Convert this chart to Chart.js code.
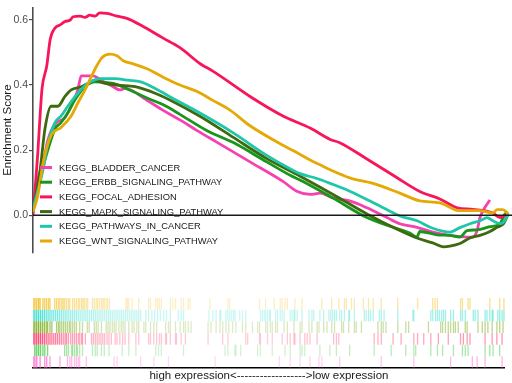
<!DOCTYPE html>
<html>
<head>
<meta charset="utf-8">
<script src="https://cdn.jsdelivr.net/npm/chart.js@4.4.1/dist/chart.umd.min.js"></script>
<style>
  body { margin: 0; background: #fff; }
  canvas { display: block; }
</style>
</head>
<body>
<canvas id="es-chart" width="512" height="265"></canvas>
<canvas id="rug-chart" width="512" height="118"></canvas>
<script>
// gene sets, in legend order
const geneSets = ['KEGG_BLADDER_CANCER', 'KEGG_ERBB_SIGNALING_PATHWAY', 'KEGG_FOCAL_ADHESION',
  'KEGG_MAPK_SIGNALING_PATHWAY', 'KEGG_PATHWAYS_IN_CANCER', 'KEGG_WNT_SIGNALING_PATHWAY'];
const yTicks = [0, 0.2, 0.4, 0.6];

// running enrichment score: position in ranked list (%) / score
const bladderX = [0,0.8,2.1,3.1,4.6,6.7,8.0,9.4,10.1,12.6,14.3,16.8,18.2,19.3,23.9,27.2,30.8,34.4,38.6,45.5,52.4,55.3,58.1,60.2,62.9,66.4,70.0,74.2,76.9,80.5,83.8,87.4,91.0,92.2,93.1,93.7,94.7,95.8];
const bladderES = [0.02,0.1,0.16,0.23,0.28,0.3,0.335,0.385,0.428,0.428,0.415,0.395,0.385,0.39,0.353,0.323,0.293,0.26,0.224,0.164,0.104,0.074,0.064,0.068,0.053,0.044,0.023,-0.007,-0.026,-0.037,-0.052,-0.062,-0.067,-0.067,-0.047,-0.007,0.023,0.047];
const erbbX = [0,1.7,3.1,4.6,5.9,7.3,8.8,10.9,13.0,16.8,20.3,23.9,27.2,30.8,36.5,41.9,49.0,53.9,56.6,62.9,70.0,75.5,79.0,80.5,81.1,84.7,87.4,89.5,91.0,93.1,95.8,97.9,98.9,99.6];
const erbbES = [0.02,0.125,0.2,0.265,0.285,0.315,0.355,0.395,0.41,0.405,0.385,0.36,0.34,0.31,0.26,0.224,0.164,0.123,0.104,0.053,-0.007,-0.037,-0.055,-0.067,-0.05,-0.06,-0.062,-0.067,-0.047,-0.045,-0.035,-0.026,0.003,0.007];
const focalX = [0,1.0,1.5,1.9,2.9,3.6,4.6,5.7,6.7,7.8,8.4,9.9,10.9,11.9,13.0,14.0,15.5,17.6,19.7,23.1,27.2,30.8,35.2,37.7,45.5,52.4,58.1,62.3,64.3,70.0,75.5,81.1,85.3,88.9,92.2,96.4,97.9,99.6];
const focalES = [0,0.19,0.31,0.39,0.46,0.54,0.575,0.585,0.595,0.6,0.61,0.612,0.608,0.615,0.612,0.622,0.62,0.612,0.605,0.58,0.545,0.515,0.464,0.443,0.365,0.305,0.268,0.233,0.223,0.173,0.123,0.073,0.05,0.023,0.018,0.007,-0.007,0.003];
const mapkX = [0,1.5,2.5,3.8,5.2,6.7,8.0,10.1,11.5,13.0,15.1,17.8,21.4,25.6,28.7,35.0,41.9,49.0,56.0,62.9,70.0,76.9,80.5,83.8,86.0,87.4,89.5,91.6,93.7,95.8,97.3,98.7,99.6];
const mapkES = [0.01,0.14,0.265,0.335,0.335,0.365,0.385,0.395,0.405,0.415,0.405,0.4,0.395,0.375,0.354,0.304,0.24,0.174,0.12,0.064,0.004,-0.047,-0.07,-0.085,-0.097,-0.095,-0.087,-0.07,-0.062,-0.05,-0.037,-0.025,0.003];
const pathwaysX = [0,2.1,3.1,4.6,5.9,7.3,9.4,11.5,14.3,17.2,19.9,22.6,24.5,26.8,28.7,35.0,41.9,49.0,53.9,56.0,59.5,62.3,66.4,73.4,76.9,80.5,83.8,87.4,89.5,91.6,93.7,95.2,96.4,97.9,98.9,99.6];
const pathwaysES = [0.02,0.14,0.22,0.285,0.305,0.335,0.375,0.405,0.42,0.42,0.415,0.41,0.398,0.38,0.364,0.314,0.254,0.184,0.143,0.128,0.113,0.098,0.074,0.023,-0.002,-0.017,-0.04,-0.052,-0.038,-0.026,-0.017,-0.007,-0.017,-0.026,-0.017,0.007];
const wntX = [0,1.0,2.1,3.8,5.9,8.0,9.4,10.9,12.2,13.4,14.5,16.1,17.6,18.9,21.0,23.9,27.2,30.8,34.4,37.7,41.3,45.5,52.4,56.0,58.1,60.2,62.3,66.4,71.3,76.9,81.1,85.3,89.5,93.7,96.4,97.3,98.5,99.6];
const wntES = [0.01,0.06,0.16,0.245,0.27,0.305,0.345,0.385,0.425,0.46,0.485,0.495,0.49,0.475,0.465,0.45,0.425,0.4,0.38,0.353,0.323,0.275,0.215,0.187,0.17,0.155,0.14,0.115,0.098,0.068,0.044,0.038,0.014,0.014,0.007,0.017,0.017,0.005];

// hit positions of each gene set in the ranked list (%)
const bladderHits = [0,0.4,0.8,1.5,2.5,2.9,3.6,5.7,7.3,7.8,8.2,8.8,9.2,9.6,9.9,11.3,17.2,17.8,22.8,25.6,28.7,38.6,52.2,54.5,56.6,58.7,60.6,61.2,65.0,73.8,80.7,88.5,93.1,94.1,95.8,99.4];
const erbbHits = [0.4,0.8,1.2,1.6,2.1,2.5,3.1,6.7,7.1,7.5,8.2,8.4,8.8,9.2,9.4,9.9,10.5,12.6,13.2,13.6,14.5,15.1,16.1,18.9,20.3,21.8,26.0,26.6,27.2,31.9,40.7,41.3,42.8,43.0,44.0,47.6,48.2,50.7,53.4,54.5,56.6,57.0,57.6,60.8,62.9,64.3,67.1,72.3,75.9,79.0,80.7,81.1,84.3,85.7,86.8,89.1,91.0,91.6,92.2,95.8,96.8,97.5,98.9];
const focalHits = [0,0.4,0.8,1.2,1.6,2.0,2.4,2.8,3.2,3.6,4.0,4.4,4.8,5.2,5.6,6.0,6.4,6.8,7.1,7.5,8.0,8.4,8.8,9.2,9.6,9.9,10.3,10.5,11.1,12.4,12.8,13.2,13.6,14.0,14.4,14.8,15.2,15.7,16.1,16.6,17.4,17.8,18.4,19.0,19.5,20.3,21.8,22.4,24.5,24.9,25.6,26.2,26.8,27.2,28.1,28.3,29.1,30.2,30.4,31.4,32.3,37.1,40.2,41.3,45.1,45.5,48.0,48.2,49.7,50.7,52.8,53.9,54.5,55.3,55.5,56.6,57.6,58.1,58.7,60.2,63.7,64.3,64.8,72.3,73.1,73.8,76.3,78.0,80.7,81.5,82.8,84.3,85.9,88.0,90.6,91.2,92.0,92.6,95.8,97.3,98.3,99.4];
const mapkHits = [0,0.4,0.8,1.2,1.6,2.0,2.4,2.8,3.1,3.6,4.0,5.0,5.4,5.7,6.1,6.5,6.9,7.3,7.7,8.0,8.4,8.8,9.2,9.9,10.5,11.5,11.9,13.0,13.4,13.8,14.5,15.5,15.9,16.3,16.8,17.2,17.6,18.2,18.7,19.1,19.5,20.3,21.0,21.4,22.0,22.4,23.5,23.9,24.9,25.6,26.2,28.1,28.7,29.1,30.2,31.2,31.9,32.3,32.9,33.5,37.1,37.7,38.8,39.6,40.2,40.9,41.5,42.3,43.0,44.4,45.1,46.5,47.6,48.0,49.3,49.7,50.3,50.7,51.4,51.8,53.2,53.9,55.3,56.6,57.0,58.5,59.1,60.2,60.6,61.6,62.3,63.3,63.9,65.4,65.8,66.9,68.1,68.5,69.6,73.1,73.8,74.2,74.8,77.3,79.0,79.6,83.8,86.4,86.8,87.4,88.0,88.5,89.1,89.5,90.1,91.6,92.0,94.3,95.2,95.8,96.4,97.3,98.3,98.9,99.6];
const pathwaysHits = [0,0.4,0.8,1.2,1.6,2.0,2.4,2.8,3.2,3.6,4.0,4.4,4.8,5.2,5.6,6.0,6.4,6.8,7.2,7.6,8.0,8.4,8.8,9.2,9.6,10.0,10.4,10.8,11.2,11.6,12.0,12.4,12.8,13.2,13.6,14.0,14.4,14.8,15.2,15.6,16.0,16.4,16.8,17.2,17.6,18.0,18.4,18.8,19.2,19.6,20.0,20.4,20.8,21.2,21.6,22.0,22.4,22.8,23.9,24.5,25.2,25.8,26.4,27.0,27.7,28.3,29.1,30.8,31.4,31.9,37.3,38.1,38.8,39.6,39.8,40.9,41.3,41.7,42.1,42.5,42.8,43.8,44.4,45.1,48.2,48.6,49.0,49.3,49.7,50.1,50.3,51.4,51.8,52.4,52.8,53.2,54.5,54.9,55.3,55.5,56.0,57.0,58.5,59.1,59.5,60.8,61.6,62.7,63.1,63.5,63.9,64.3,65.0,65.4,66.0,66.9,67.1,68.1,70.2,70.6,71.1,71.5,72.1,73.4,73.8,74.4,77.3,80.5,80.7,84.3,84.7,85.3,85.7,86.1,86.6,87.0,87.4,88.5,89.1,90.6,91.0,91.6,93.3,93.7,94.3,95.8,96.2,96.8,97.3,97.5,98.5,98.9,99.4,99.8];
const wntHits = [0,0.4,0.8,1.2,1.5,2.1,2.5,2.9,3.3,3.6,4.6,5.0,5.4,5.7,6.1,6.4,6.7,7.1,7.5,7.8,8.4,8.8,9.2,9.6,9.9,10.3,10.6,10.9,11.3,11.6,12.6,13.0,13.4,13.7,14.1,14.5,14.8,15.1,15.5,15.8,16.2,19.7,20.0,20.3,21.0,22.4,24.5,24.9,26.0,26.4,26.8,27.2,29.1,29.6,30.2,31.4,31.9,32.9,33.3,37.5,41.3,41.7,48.0,49.3,51.1,52.4,52.8,53.4,53.9,55.5,57.0,61.2,63.3,64.8,66.0,66.4,67.5,68.1,70.0,71.1,72.1,73.8,77.3,81.5,84.7,85.2,85.7,90.6,91.0,92.2,92.6,96.8,98.9,99.8];

const lineColors = ['#F542B0', '#18961B', '#F7165A', '#3D6A0F', '#1FC6A8', '#E5A905'];
const rugColors = [[255, 92, 200], [60, 200, 60], [255, 26, 85], [106, 164, 0], [25, 217, 201], [242, 183, 5]];

const esX = [bladderX, erbbX, focalX, mapkX, pathwaysX, wntX];
const esY = [bladderES, erbbES, focalES, mapkES, pathwaysES, wntES];
const hits = [bladderHits, erbbHits, focalHits, mapkHits, pathwaysHits, wntHits];

Chart.defaults.font.family = '"Liberation Sans", Arial, sans-serif';
Chart.defaults.color = '#1a1a1a';

// zero line + legend drawn inside the plot
const esOverlay = {
  id: 'esOverlay',
  afterDatasetsDraw(chart) {
    const ctx = chart.ctx;
    const area = chart.chartArea;
    const y0 = chart.scales.y.getPixelForValue(0);
    ctx.save();
    ctx.strokeStyle = '#1a1a1a';
    ctx.lineWidth = 1.3;
    ctx.beginPath();
    ctx.moveTo(area.left, y0);
    ctx.lineTo(chart.width, y0);
    ctx.stroke();

    ctx.font = '9.4px "Liberation Sans", Arial, sans-serif';
    ctx.textBaseline = 'middle';
    ctx.textAlign = 'left';
    chart.data.datasets.forEach((ds, i) => {
      const y = 167.5 + i * 14.7;
      ctx.strokeStyle = ds.borderColor;
      ctx.lineWidth = 3;
      ctx.beginPath();
      ctx.moveTo(40, y);
      ctx.lineTo(52, y);
      ctx.stroke();
      ctx.fillStyle = '#1a1a1a';
      ctx.fillText(ds.label, 59, y + 0.5);
    });
    ctx.restore();
  }
};

new Chart(document.getElementById('es-chart').getContext('2d'), {
  type: 'line',
  data: {
    datasets: geneSets.map((name, i) => ({
      label: name,
      data: esX[i].map((x, j) => ({x: x, y: esY[i][j]})),
      borderColor: lineColors[i],
      borderWidth: 2.8,
      pointRadius: 0,
      cubicInterpolationMode: 'monotone',
      fill: false,
      order: geneSets.length - i
    }))
  },
  options: {
    responsive: false,
    animation: false,
    layout: {padding: {top: 2, right: 2, bottom: 12, left: 0}},
    plugins: {legend: {display: false}, tooltip: {enabled: false}},
    scales: {
      x: {type: 'linear', min: 0, max: 100, display: false},
      y: {
        min: -0.116,
        max: 0.639,
        afterBuildTicks: (scale) => { scale.ticks = yTicks.map(v => ({value: v})); },
        afterFit: (scale) => { scale.width = 33; },
        ticks: {
          color: '#4d4d4d',
          font: {size: 10.5},
          padding: 1,
          callback: (v) => Number(v).toFixed(1)
        },
        grid: {drawOnChartArea: false, drawTicks: true, tickLength: 4, color: '#4d4d4d', lineWidth: 1.2},
        border: {display: true, color: '#4d4d4d', width: 1.6},
        title: {display: true, text: 'Enrichment Score', color: '#1a1a1a', font: {size: 11.5}, padding: {top: 1, bottom: 0}}
      }
    }
  },
  plugins: [esOverlay]
});

// hit strength: strongest at the top of the list, weak in the middle
function hitColor(rgb, x) {
  const a = 0.22 + 0.68 * Math.exp(-x / 7) + 0.25 * Math.max(0, (x - 50) / 50);
  return 'rgba(' + rgb[0] + ',' + rgb[1] + ',' + rgb[2] + ',' + a.toFixed(2) + ')';
}

new Chart(document.getElementById('rug-chart').getContext('2d'), {
  type: 'scatter',
  data: {
    datasets: geneSets.map((name, i) => ({
      label: name,
      data: hits[i].map(x => ({x: x, y: i + 1})),
      pointStyle: 'line',
      rotation: 90,
      radius: 5.8,
      borderWidth: 1.3,
      borderColor: (c) => c.raw ? hitColor(rugColors[i], c.raw.x) : lineColors[i]
    }))
  },
  options: {
    responsive: false,
    animation: false,
    layout: {padding: {top: 33, right: 2, bottom: 0, left: 33}},
    plugins: {legend: {display: false}, tooltip: {enabled: false}},
    scales: {
      x: {
        type: 'linear', min: 0, max: 100,
        ticks: {display: false},
        grid: {display: false},
        border: {display: true, color: '#000', width: 1.5},
        afterFit: (scale) => { scale.height = 15; },
        title: {
          display: true,
          text: 'high expression<------------------>low expression',
          color: '#1a1a1a',
          font: {size: 11.5},
          padding: 0
        }
      },
      y: {min: 0.5, max: 6.5, display: false}
    }
  }
});
</script>
</body>
</html>
